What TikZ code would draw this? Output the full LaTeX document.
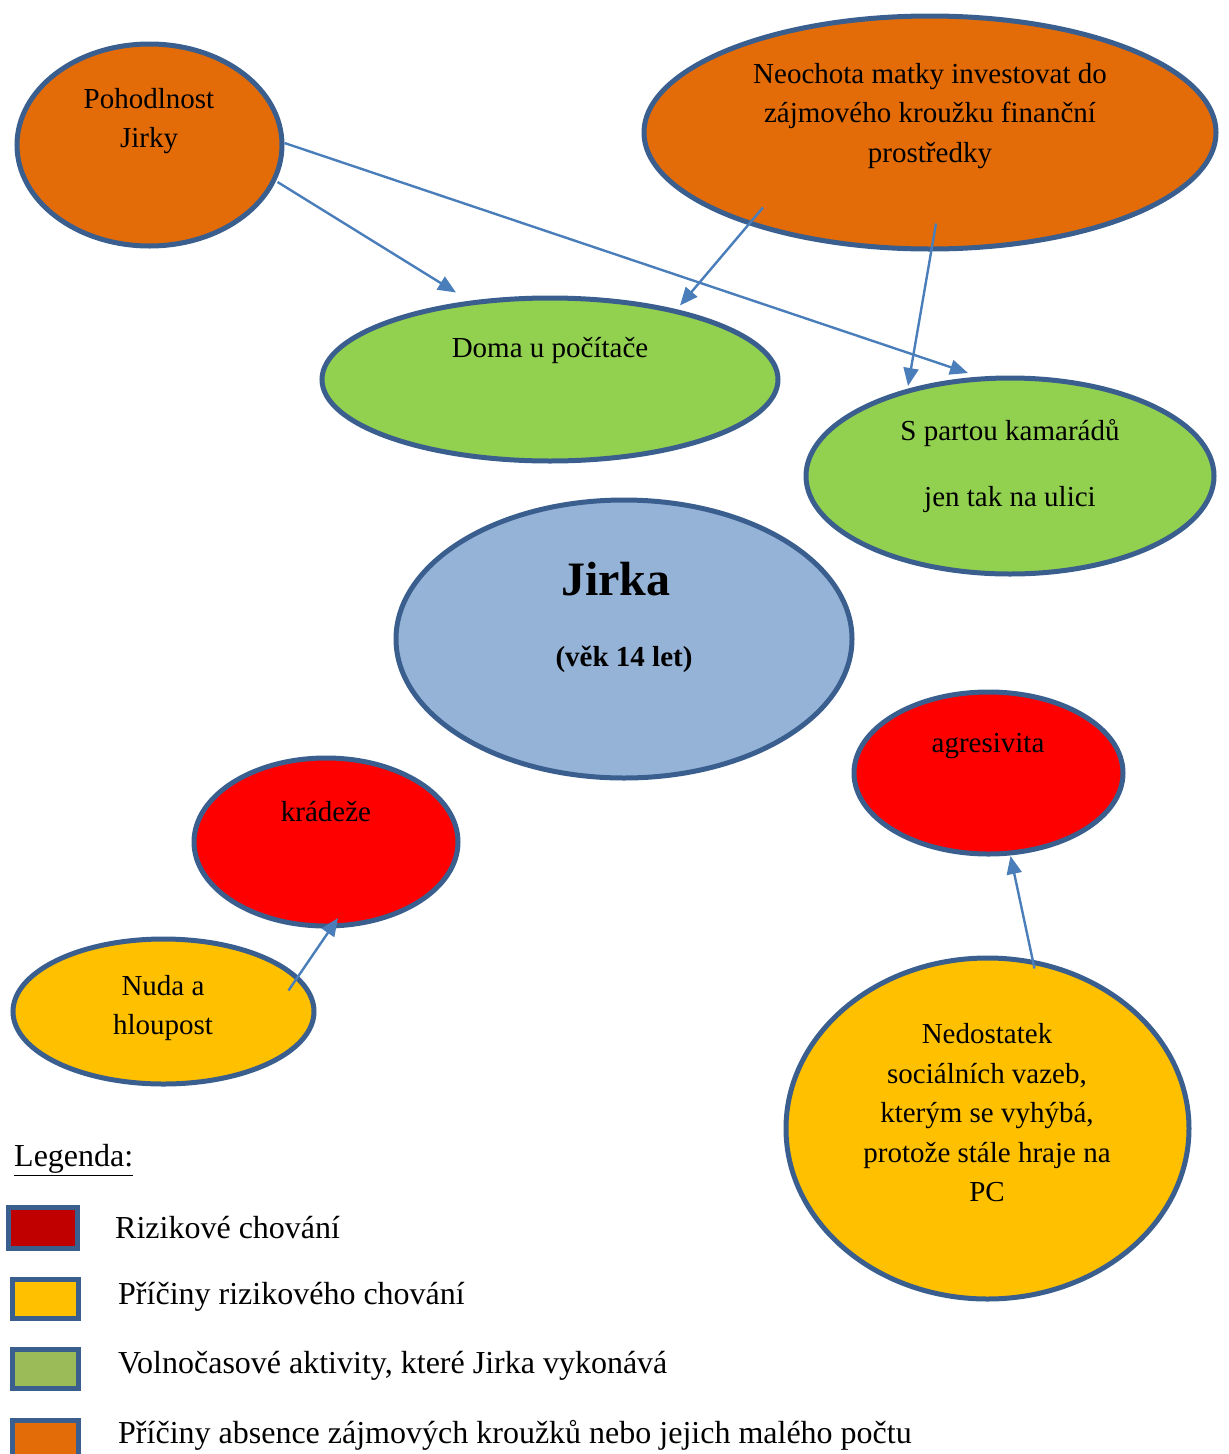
\documentclass[tikz,border=0pt]{standalone}
\usepackage{fontspec}
\setmainfont{Liberation Serif}
\usepackage{xcolor}
\usepackage{tikz}
\usetikzlibrary{shapes,arrows.meta,positioning,calc}

\definecolor{rimblue}{HTML}{3A5F8F}
\definecolor{arrowblue}{HTML}{4A7EBB}
\definecolor{causeorange}{HTML}{E36C09}
\definecolor{freegreen}{HTML}{92D050}
\definecolor{jirkablue}{HTML}{95B3D7}
\definecolor{riskred}{HTML}{FF0000}
\definecolor{causeyellow}{HTML}{FFC000}
\definecolor{legred}{HTML}{C00000}
\definecolor{leggreen}{HTML}{9BBB59}

\begin{document}
\begin{tikzpicture}[x=1pt,y=-1pt,
    bubble/.style={ellipse, draw=rimblue, line width=5pt, inner sep=0pt},
    txt/.style={align=center, font=\fontsize{29}{39.5}\selectfont, inner sep=0pt},
    arr/.style={draw=arrowblue, line width=2.4pt, -{Triangle[length=18pt,width=15pt]}},
    legbox/.style={draw=rimblue, line width=5pt, minimum width=66pt, minimum height=39pt, inner sep=0pt},
    legtxt/.style={anchor=west, font=\fontsize{32}{38}\selectfont, inner sep=0pt}]
    \clip (0,0) rectangle (1229,1454);
    \useasboundingbox (0,0) rectangle (1229,1454);

    % ellipses
    \node[bubble, fill=causeorange, minimum width=265, minimum height=202] (poh) at (149.5,145) {};
    \node[bubble, fill=causeorange, minimum width=572, minimum height=233] (neo) at (930,132.5) {};
    \node[bubble, fill=freegreen, minimum width=456, minimum height=163] (doma) at (550,379.5) {};
    \node[bubble, fill=freegreen, minimum width=408, minimum height=196] (kam) at (1010,476) {};
    \node[bubble, fill=jirkablue, minimum width=456, minimum height=278] (jirka) at (624,639) {};
    \node[bubble, fill=riskred, minimum width=269, minimum height=162] (agr) at (988.5,773) {};
    \node[bubble, fill=riskred, minimum width=264, minimum height=168] (krad) at (326,842) {};
    \node[bubble, fill=causeyellow, minimum width=301, minimum height=145] (nuda) at (163.5,1011.5) {};
    \node[bubble, fill=causeyellow, minimum width=403, minimum height=341] (ned) at (987.5,1128.5) {};

    % texts
    \node[txt] (tpoh) at (149,121) {Pohodlnost\\Jirky};
    \node[txt] (tneo) at (930,116) {Neochota matky investovat do\\zájmového kroužku finanční\\prostředky};
    \node[txt] (tdoma) at (550,350) {Doma u počítače};
    \node[txt] (tkam) at (1010,466) {S partou kamarádů\\[26.5pt]jen tak na ulici};
    \node[txt, font=\bfseries\fontsize{48}{56}\selectfont] (tjirka) at (616,579) {Jirka};
    \node[txt, font=\bfseries\fontsize{29}{35}\selectfont] (tvek) at (624,659) {(věk 14 let)};
    \node[txt] (tagr) at (988,746) {agresivita};
    \node[txt] (tkrad) at (326,812) {krádeže};
    \node[txt] (tnuda) at (163,1008) {Nuda a\\hloupost};
    \node[txt] (tned) at (987,1113) {Nedostatek\\sociálních vazeb,\\kterým se vyhýbá,\\protože stále hraje na\\PC};

    % arrows
    \draw[arr] ([shift={(128,37)}]poh.center) -- ([shift={(-94,-87)}]doma.center);
    \draw[arr] ([shift={(135,-2)}]poh.center) -- ([shift={(-42,-103)}]kam.center);
    \draw[arr] ([shift={(-167,75)}]neo.center) -- ([shift={(130,-74)}]doma.center);
    \draw[arr] ([shift={(6,91)}]neo.center) -- ([shift={(-102,-90)}]kam.center);
    \draw[arr] ([shift={(125,-21)}]nuda.center) -- ([shift={(12,76)}]krad.center);
    \draw[arr] ([shift={(47,-160)}]ned.center) -- ([shift={(22,83)}]agr.center);

    % legend
    \node[legtxt] (leg) at (14,1160) {\underline{Legenda:}};
    \node[legbox, fill=legred, minimum width=69, minimum height=41] (b1) at (42.5,1227.5) {};
    \node[legbox, fill=causeyellow] (b2) at (45,1299) {};
    \node[legbox, fill=leggreen] (b3) at (45,1369) {};
    \node[legbox, fill=causeorange] (b4) at (45,1440) {};
    \node[legtxt] (l1) at (115,1228) {Rizikové chování};
    \node[legtxt] (l2) at (118,1297) {Příčiny rizikového chování};
    \node[legtxt] (l3) at (118,1366) {Volnočasové aktivity, které Jirka vykonává};
    \node[legtxt] (l4) at (118,1435) {Příčiny absence zájmových kroužků nebo jejich malého počtu};
\end{tikzpicture}
\end{document}
